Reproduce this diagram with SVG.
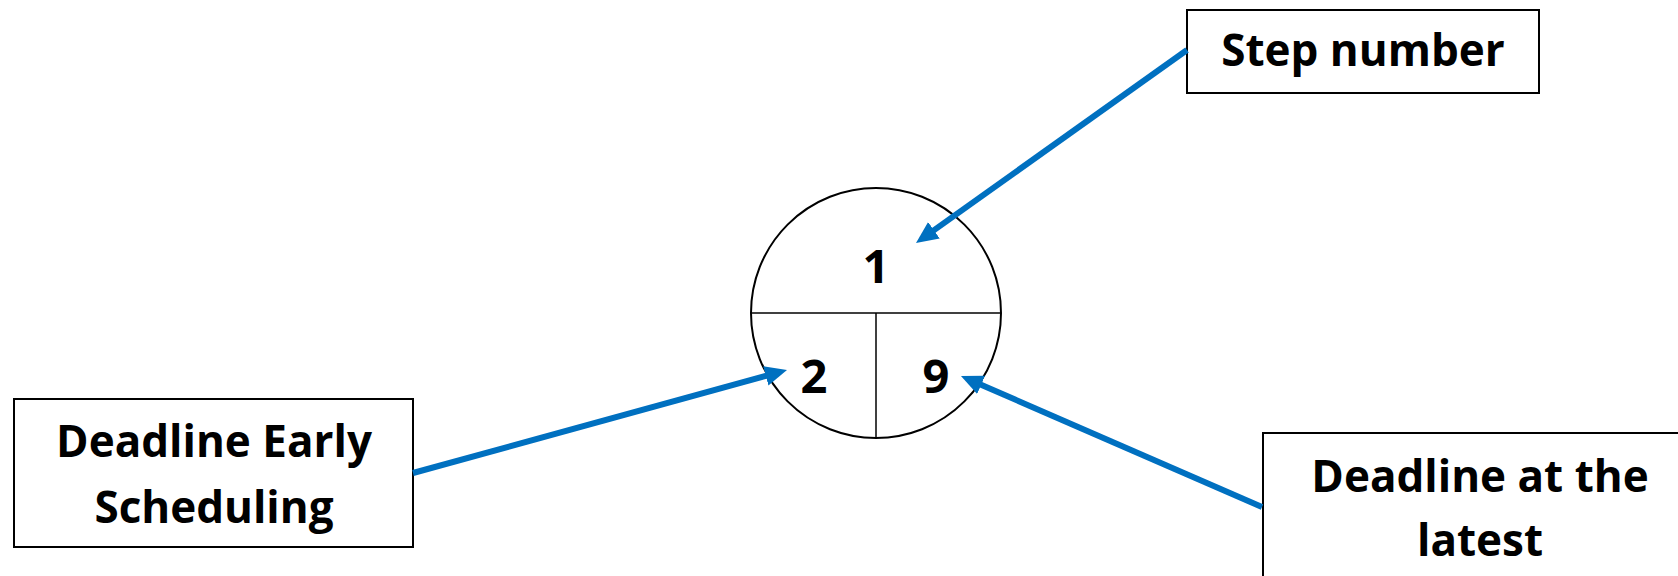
<svg xmlns="http://www.w3.org/2000/svg" width="1678" height="576" viewBox="0 0 1678 576">
<style>
.box{fill:#fff;stroke:#000;stroke-width:2}
.lbl{font-family:"Open Sans","Liberation Sans",sans-serif;font-weight:700;font-size:44px;fill:#000;text-anchor:middle}
.num{font-family:"Open Sans","Liberation Sans",sans-serif;font-weight:700;font-size:47px;fill:#000;text-anchor:middle}
.conn{stroke:#0070C0;stroke-width:6;fill:none;marker-end:url(#ah)}
.div{stroke:#000;stroke-width:1.5}
</style>
<defs>
<marker id="ah" markerUnits="userSpaceOnUse" markerWidth="24" markerHeight="22" refX="2" refY="10" orient="auto">
<path d="M0,0 L22,10 L0,20 z" fill="#0070C0"/>
</marker>
</defs>
<rect width="1678" height="576" fill="#fff"/>
<g id="node-circle">
<circle cx="876" cy="313" r="125" fill="#fff" stroke="#000" stroke-width="2"/>
<line class="div" x1="751" y1="313" x2="1001" y2="313"/>
<line class="div" x1="876" y1="313" x2="876" y2="438"/>
<text class="num" x="876" y="283">1</text>
<text class="num" x="814" y="393">2</text>
<text class="num" x="936" y="393">9</text>
</g>
<g id="node-step">
<rect class="box" x="1187" y="10" width="352" height="83"/>
<text class="lbl" x="1363" y="66">Step number</text>
</g>
<g id="node-early">
<rect class="box" x="14" y="399" width="399" height="148"/>
<text class="lbl" x="214" y="457">Deadline Early</text>
<text class="lbl" x="214" y="523">Scheduling</text>
</g>
<g id="node-latest">
<rect class="box" x="1263" y="433" width="440" height="160"/>
<text class="lbl" x="1480" y="492">Deadline at the</text>
<text class="lbl" x="1480" y="556">latest</text>
</g>
<g id="connectors">
<line class="conn" x1="1187" y1="50" x2="932.3" y2="231.4"/>
<line class="conn" x1="413" y1="473" x2="767.7" y2="375.3"/>
<line class="conn" x1="1262" y1="507" x2="979.3" y2="384"/>
</g>
</svg>
